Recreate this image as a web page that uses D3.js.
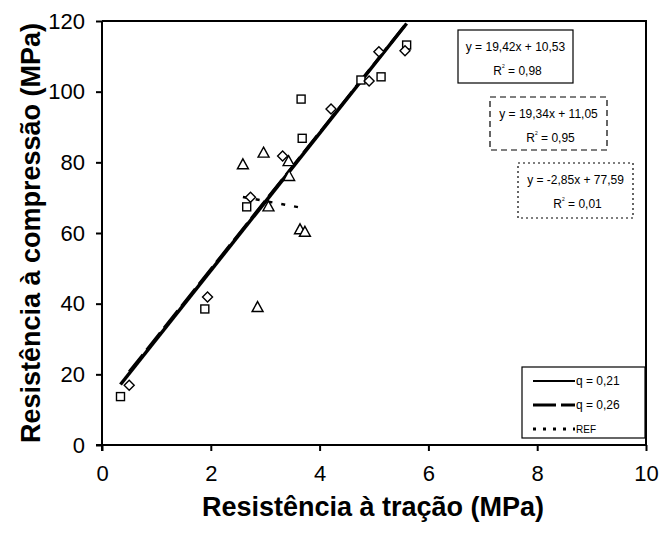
<!DOCTYPE html>
<html lang="pt">
<head>
<meta charset="UTF-8">
<title>Resistência à compressão x tração</title>
<style>
  body { margin: 0; background: #fff; }
  text { font-family: "Liberation Sans", Arial, sans-serif; fill: #000; }
</style>
</head>
<body>
<div id="chart"></div>
<script src="https://d3js.org/d3.v7.min.js"></script>
<script>
// tick values
const xTicks = [0, 2, 4, 6, 8, 10];
const yTicks = [0, 20, 40, 60, 80, 100, 120];

// q = 0,21 (squares)
const sqX = [0.34, 1.89, 2.66, 3.66, 3.68, 4.76, 5.13, 5.60];
const sqY = [13.7, 38.5, 67.4, 97.9, 86.8, 103.3, 104.2, 113.2];
// q = 0,26 (diamonds)
const diX = [0.50, 1.94, 2.73, 3.32, 4.21, 4.91, 5.09, 5.57];
const diY = [16.9, 41.9, 70.1, 81.8, 95.1, 103.0, 111.3, 111.6];
// REF (triangles)
const trX = [2.86, 2.59, 2.97, 3.43, 3.44, 3.06, 3.64, 3.73];
const trY = [38.9, 79.3, 82.6, 80.2, 76.0, 67.4, 60.9, 60.2];

// linear fits shown on the chart
const fitSlope = [19.42, 19.34, -2.85];
const fitIntercept = [10.53, 11.05, 77.59];
const eqLabels = ["y = 19,42x + 10,53", "y = 19,34x + 11,05", "y = -2,85x + 77,59"];
const r2Labels = ["0,98", "0,95", "0,01"];
const legendLabels = ["q = 0,21", "q = 0,26", "REF"];

const width = 661, height = 536;
const margin = {top: 21, right: 15, bottom: 91, left: 102};
const iw = width - margin.left - margin.right;
const ih = height - margin.top - margin.bottom;

const svg = d3.select("#chart").append("svg")
  .attr("width", width)
  .attr("height", height);

const x = d3.scaleLinear().domain([0, 10]).range([margin.left, margin.left + iw]);
const y = d3.scaleLinear().domain([0, 120]).range([margin.top + ih, margin.top]);

svg.append("clipPath").attr("id", "plot")
  .append("rect")
  .attr("x", margin.left).attr("y", margin.top)
  .attr("width", iw).attr("height", ih);

// frame (top + right)
svg.append("path")
  .attr("d", `M${x(0)},${y(120)}H${x(10)}V${y(0)}`)
  .attr("fill", "none").attr("stroke", "#000").attr("stroke-width", 2);

// axes
const xAxis = svg.append("g")
  .attr("transform", `translate(0,${y(0)})`)
  .call(d3.axisBottom(x).tickValues(xTicks).tickSize(6).tickPadding(14).tickFormat(d3.format("d")));
const yAxis = svg.append("g")
  .attr("transform", `translate(${x(0)},0)`)
  .call(d3.axisLeft(y).tickValues(yTicks).tickSize(6).tickPadding(11).tickFormat(d3.format("d")));

[xAxis, yAxis].forEach(g => {
  g.select(".domain").attr("stroke", "#000").attr("stroke-width", 2);
  g.selectAll(".tick line").attr("stroke", "#000").attr("stroke-width", 2);
  g.selectAll(".tick text")
    .attr("font-family", "'Liberation Sans', Arial, sans-serif")
    .attr("font-size", 22).attr("fill", "#000");
});
xAxis.select(".domain").attr("d", `M${x(0) - 6},0H${x(10)}`);
yAxis.select(".domain").attr("d", `M0,${y(0) + 6}V${y(120)}`);

// axis titles
svg.append("text")
  .attr("x", (x(0) + x(10)) / 2 - 1).attr("y", 516)
  .attr("text-anchor", "middle")
  .attr("font-size", 27).attr("font-weight", "bold")
  .text("Resistência à tração (MPa)");
svg.append("text")
  .attr("transform", `translate(40,${(y(0) + y(120)) / 2}) rotate(-90)`)
  .attr("text-anchor", "middle")
  .attr("font-size", 27).attr("font-weight", "bold")
  .text("Resistência à compressão (MPa)");

// trend lines
const lineStyles = [
  {w: 3.5, dash: null},
  {w: 3, dash: "22,6"},
  {w: 2.5, dash: "4,9"}
];
const series = [[sqX, sqY], [diX, diY], [trX, trY]];
const lineG = svg.append("g").attr("clip-path", "url(#plot)");
series.forEach(([xs], i) => {
  const ext = d3.extent(xs);
  const pts = ext.map(v => [x(v), y(fitSlope[i] * v + fitIntercept[i])]);
  lineG.append("path")
    .attr("d", d3.line()(pts))
    .attr("fill", "none").attr("stroke", "#000")
    .attr("stroke-width", lineStyles[i].w)
    .attr("stroke-dasharray", lineStyles[i].dash);
});

// markers
const markG = svg.append("g").attr("fill", "#fff").attr("stroke", "#000").attr("stroke-width", 1.4);
markG.selectAll(".sq").data(d3.zip(sqX, sqY)).join("rect")
  .attr("x", d => x(d[0]) - 4).attr("y", d => y(d[1]) - 4)
  .attr("width", 8).attr("height", 8);
markG.selectAll(".di").data(d3.zip(diX, diY)).join("path")
  .attr("d", d => `M${x(d[0])},${y(d[1]) - 5}l5,5l-5,5l-5,-5z`);
markG.selectAll(".tr").data(d3.zip(trX, trY)).join("path")
  .attr("d", d => `M${x(d[0])},${y(d[1]) - 6}l5.5,10h-11z`);

// equation boxes
const eqBoxes = [
  {x: 458, y: 30, w: 115, h: 53, dash: null},
  {x: 490, y: 97, w: 117, h: 53, dash: "6,4"},
  {x: 518, y: 163, w: 115, h: 55, dash: "2,3"}
];
eqBoxes.forEach((b, i) => {
  svg.append("rect")
    .attr("x", b.x).attr("y", b.y).attr("width", b.w).attr("height", b.h)
    .attr("fill", "#fff").attr("stroke", "#000").attr("stroke-width", 1.2)
    .attr("stroke-dasharray", b.dash);
  svg.append("text")
    .attr("x", b.x + b.w / 2).attr("y", b.y + 21)
    .attr("text-anchor", "middle").attr("font-size", 12)
    .text(eqLabels[i]);
  const t = svg.append("text")
    .attr("x", b.x + b.w / 2 + 2).attr("y", b.y + 45)
    .attr("text-anchor", "middle").attr("font-size", 12);
  t.append("tspan").text("R");
  t.append("tspan").attr("font-size", 5).attr("dy", -7).text("2");
  t.append("tspan").attr("dy", 7).text("  = " + r2Labels[i]);
});

// legend
const lg = svg.append("g");
lg.append("rect")
  .attr("x", 522).attr("y", 367).attr("width", 123).attr("height", 71)
  .attr("fill", "#fff").attr("stroke", "#000").attr("stroke-width", 1.2);
const legendStyles = [
  {w: 2, dash: null},
  {w: 3, dash: "23,5"},
  {w: 3, dash: "3,7"}
];
legendLabels.forEach((lab, i) => {
  const ly = 381 + i * 24;
  lg.append("line")
    .attr("x1", 533).attr("x2", 575).attr("y1", ly).attr("y2", ly)
    .attr("stroke", "#000").attr("stroke-width", legendStyles[i].w)
    .attr("stroke-dasharray", legendStyles[i].dash);
  lg.append("text")
    .attr("x", 576).attr("y", ly + 4)
    .attr("font-size", i === 2 ? 10 : 12)
    .text(lab);
});
</script>
</body>
</html>
